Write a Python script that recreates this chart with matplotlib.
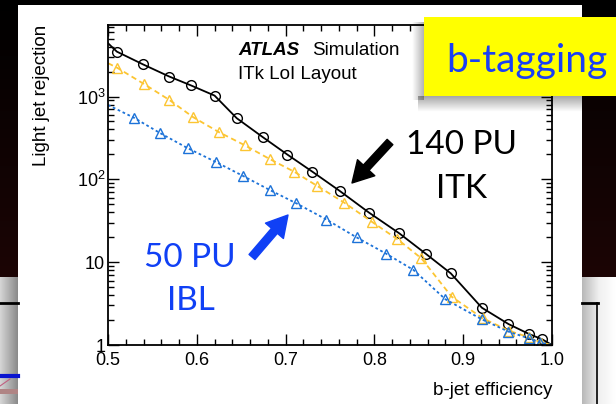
import numpy as np
import matplotlib
matplotlib.use("Agg")
import matplotlib.pyplot as plt
from matplotlib.patches import Rectangle
from matplotlib.colors import LinearSegmentedColormap
from matplotlib.ticker import MultipleLocator, FormatStrFormatter, LogLocator, NullFormatter

plt.rcParams['font.family'] = ['Liberation Sans', 'DejaVu Sans']
plt.rcParams['mathtext.fontset'] = 'custom'
plt.rcParams['mathtext.rm'] = 'Liberation Sans'
plt.rcParams['mathtext.it'] = 'Liberation Sans:italic'

# ITk 140 PU (black circles); first and last entries are the line ends at the frame
eff_itk = [0.500, 0.510, 0.539, 0.569, 0.593, 0.620, 0.645, 0.674, 0.702, 0.730,
           0.761, 0.794, 0.828, 0.858, 0.886, 0.921, 0.951, 0.974, 0.989, 1.000]
rej_itk = [4400, 3480, 2455, 1742, 1368, 1026, 547, 325, 199, 124,
           72.4, 39.6, 22.3, 12.6, 7.33, 2.82, 1.79, 1.36, 1.17, 1.0]

# yellow triangles
eff_yel = [0.500, 0.510, 0.541, 0.569, 0.596, 0.625, 0.654, 0.682, 0.710, 0.735,
           0.766, 0.797, 0.826, 0.853, 0.887, 0.922, 0.952, 0.974, 0.988, 1.000]
rej_yel = [2525, 2234, 1406, 910, 562, 371, 258, 176, 123, 84,
           52.3, 30.8, 18.9, 11.1, 3.83, 2.10, 1.48, 1.24, 1.07, 1.0]

# IBL 50 PU (blue triangles)
eff_ibl = [0.500, 0.529, 0.559, 0.590, 0.622, 0.652, 0.682, 0.712, 0.746, 0.780,
           0.813, 0.844, 0.880, 0.921, 0.951, 0.974, 0.987, 1.000]
rej_ibl = [790, 556, 360, 237, 161, 110, 74.5, 51.4, 32.7, 19.9,
           12.7, 8.05, 3.56, 2.04, 1.45, 1.20, 1.07, 1.0]

xticks = [0.5, 0.6, 0.7, 0.8, 0.9, 1.0]
yticks = [1, 10, 100, 1000]
ytick_labels = ['1', '10', r'$10^{2}$', r'$10^{3}$']

W, H = 616, 404
fig = plt.figure(figsize=(W / 100, H / 100), dpi=100)
fig.patch.set_facecolor('black')

# slide background
bg = fig.add_axes([0, 0, 1, 1], zorder=0)
dark = LinearSegmentedColormap.from_list('dark', ['#000000', '#1c0505'])
bg.imshow(np.linspace(0, 1, 256)[:, None], extent=(0, W, 277, 0), cmap=dark, aspect='auto')
lgray = LinearSegmentedColormap.from_list('lg', ['#d6d6d6', '#8a8a8a'])
bg.imshow(np.linspace(0, 1, 64)[None, :], extent=(0, 18, H, 277), cmap=lgray, aspect='auto')
rgray = LinearSegmentedColormap.from_list('rg', ['#b8b8b8', '#f0f0f0', '#ffffff'])
bg.imshow(np.linspace(0, 1, 64)[None, :], extent=(582, W, H, 277), cmap=rgray, aspect='auto')
bg.plot([0, 18], [303, 303], color='black', lw=2)
bg.plot([0, 18], [376, 376], color='#0a14d0', lw=3)
bg.plot([0, 10], [386, 379], color='#c06080', lw=0.8)
bg.add_patch(Rectangle((0, 389), 18, 5, fc='#b08585', ec='none'))
bg.plot([582, 598], [303, 303], color='black', lw=2)
bg.plot([597, 597], [303, H], color='black', lw=1.2)
bg.add_patch(Rectangle((18, 5), 564, H - 5, fc='white', ec='none'))
bg.set_xlim(0, W)
bg.set_ylim(H, 0)
bg.axis('off')

# the plot
ax = fig.add_axes([108 / W, (H - 345) / H, 444 / W, 320 / H], zorder=2)
ax.plot(eff_itk, rej_itk, color='black', lw=1.3, marker='o', ms=7, mfc='none',
        mec='black', mew=1.0, markevery=slice(1, -1))
ax.plot(eff_yel, rej_yel, color='#fcc532', lw=1.3, ls=(0, (3, 2)), marker='^', ms=7,
        mfc='none', mec='#fcc532', mew=1.0, markevery=slice(1, -1))
ax.plot(eff_ibl, rej_ibl, color='#1c72d8', lw=1.3, ls=(0, (1.5, 1.5)), marker='^', ms=7,
        mfc='none', mec='#1c72d8', mew=1.0, markevery=slice(1, -1))
ax.set_yscale('log')
ax.set_xlim(0.5, 1.0)
ax.set_ylim(1, 7300)
ax.set_xticks(xticks)
ax.xaxis.set_major_formatter(FormatStrFormatter('%.1f'))
ax.xaxis.set_minor_locator(MultipleLocator(0.02))
ax.set_yticks(yticks)
ax.set_yticklabels(ytick_labels)
ax.yaxis.set_minor_locator(LogLocator(base=10, subs=np.arange(2, 10)))
ax.yaxis.set_minor_formatter(NullFormatter())
ax.tick_params(which='both', direction='in', top=True, right=True, labelsize=13)
ax.tick_params(which='major', length=8, width=1)
ax.tick_params(which='minor', length=4, width=1)
ax.tick_params(axis='y', pad=2)
ax.tick_params(axis='x', pad=5)
for s in ax.spines.values():
    s.set_linewidth(1.3)
ax.set_xlabel('b-jet efficiency', fontsize=13.5, loc='right')
ax.xaxis.set_label_coords(1.0, -0.115)
ax.set_ylabel('Light jet rejection', fontsize=13.5, loc='top')
ax.yaxis.set_label_coords(-0.13, 1.0)

# overlay: labels, box, arrows
ov = fig.add_axes([0, 0, 1, 1], zorder=5)
ov.patch.set_alpha(0)
sh = np.zeros((32, 2, 4))
sh[..., 3] = np.linspace(0.35, 0, 32)[:, None]
ov.imshow(sh, extent=(418, 582, 112, 96), aspect='auto')
shl = np.zeros((2, 32, 4))
shl[..., 3] = np.linspace(0, 0.3, 32)[None, :]
ov.imshow(shl, extent=(412, 424, 100, 22), aspect='auto')
ov.add_patch(Rectangle((424, 17), 192, 79, fc='#ffff00', ec='none'))
ov.text(527, 72, 'b-tagging', ha='center', va='baseline', fontsize=28,
        family='Lato', color='#1a3ff5')

ov.text(238, 55, 'ATLAS', fontsize=13.5, fontweight='bold', style='italic', va='baseline')
ov.text(312, 55, 'Simulation', fontsize=13.5, va='baseline')
ov.text(238, 79, 'ITk LoI Layout', fontsize=13.5, va='baseline')

ov.text(462, 154, '140 PU', ha='center', va='baseline', fontsize=24, family='Lato')
ov.text(462, 198, 'ITK', ha='center', va='baseline', fontsize=24, family='Lato')
ov.text(190, 267, '50 PU', ha='center', va='baseline', fontsize=24, family='Lato',
        color='#1040f5')
ov.text(191, 310, 'IBL', ha='center', va='baseline', fontsize=24, family='Lato',
        color='#1040f5')

arrow_style = 'simple,head_length=0.75,head_width=0.85,tail_width=0.28'
ov.annotate('', xy=(352, 183), xytext=(390, 142),
            arrowprops=dict(arrowstyle=arrow_style, color='black', mutation_scale=20,
                            shrinkA=0, shrinkB=0))
ov.annotate('', xy=(288, 215), xytext=(252, 257),
            arrowprops=dict(arrowstyle=arrow_style, color='#1040f5', mutation_scale=20,
                            shrinkA=0, shrinkB=0))
ov.set_xlim(0, W)
ov.set_ylim(H, 0)
ov.axis('off')

fig.savefig('out.png', dpi=100, facecolor=fig.get_facecolor())
